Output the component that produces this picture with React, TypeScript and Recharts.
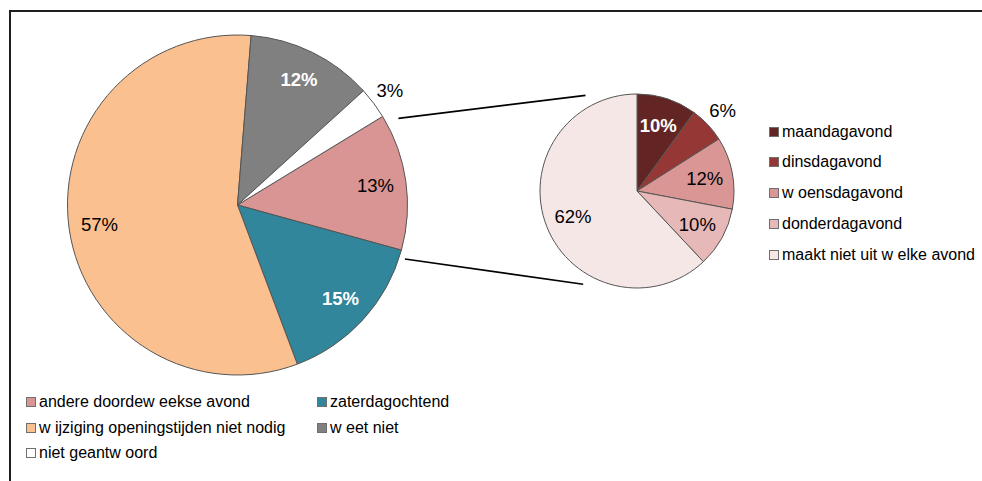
import React from 'react';
import { PieChart, Pie, Cell, Legend, Customized } from 'recharts';

// Main breakdown: preferred extra opening moment
const mainCategories = [
  'andere doordew eekse avond',
  'zaterdagochtend',
  'w ijziging openingstijden niet nodig',
  'w eet niet',
  'niet geantw oord',
];
const mainValues = [13, 15, 57, 12, 3];
const mainColors = ['#D99594', '#31869B', '#FAC090', '#808080', '#FFFFFF'];

// Split of "andere doordeweekse avond" into evenings
const eveningCategories = [
  'maandagavond',
  'dinsdagavond',
  'w oensdagavond',
  'donderdagavond',
  'maakt niet uit w elke avond',
];
const eveningValues = [10, 6, 12, 10, 62];
const eveningColors = ['#632523', '#953735', '#D99694', '#E6B9B8', '#F6E7E7'];

const mainData = mainCategories.map((name, i) => ({ name, value: mainValues[i] }));
const eveningData = eveningCategories.map((name, i) => ({ name, value: eveningValues[i] }));

const W = 982;
const H = 481;
const FONT = '"Liberation Sans", Arial, Helvetica, sans-serif';

const MAIN = { cx: 237.5, cy: 205, r: 170, start: 31.4 };
const SUB = { cx: 637, cy: 191, r: 97, start: 90 };

const RAD = Math.PI / 180;

// point on a circle, angle measured clockwise from 12 o'clock
const polar = (cx: number, cy: number, r: number, deg: number) => ({
  x: cx + r * Math.sin(deg * RAD),
  y: cy - r * Math.cos(deg * RAD),
});

const boldWhite = (fill: string) => ['#808080', '#31869B', '#632523'].includes(fill);

const makeLabel = (colors: string[], inside: number, outside: number) => (props: any) => {
  const { cx, cy, midAngle, outerRadius, index, value } = props;
  const small = value < 8;
  const r = outerRadius * (small ? outside : inside);
  const x = cx + r * Math.cos(-midAngle * RAD);
  const y = cy + r * Math.sin(-midAngle * RAD);
  const white = !small && boldWhite(colors[index]);
  return (
    <text
      x={x}
      y={y}
      textAnchor="middle"
      dominantBaseline="central"
      fontFamily={FONT}
      fontSize={18.5}
      fontWeight={white ? 'bold' : 'normal'}
      fill={white ? '#FFFFFF' : '#000000'}
    >
      {`${value}%`}
    </text>
  );
};

// lines linking the split slice to the secondary pie
const Connectors = () => {
  const a = polar(MAIN.cx, MAIN.cy, MAIN.r * 1.075, 61.7);
  const b = polar(SUB.cx, SUB.cy, SUB.r * 1.12, 331.7);
  const c = polar(MAIN.cx, MAIN.cy, MAIN.r * 1.035, 107.9);
  const d = polar(SUB.cx, SUB.cy, SUB.r * 1.11, 210);
  return (
    <g>
      <line x1={a.x} y1={a.y} x2={b.x} y2={b.y} stroke="#000" strokeWidth={1.6} />
      <line x1={c.x} y1={c.y} x2={d.x} y2={d.y} stroke="#000" strokeWidth={1.6} />
    </g>
  );
};

const Swatch = ({ color }: { color: string }) => (
  <span
    style={{
      display: 'inline-block',
      width: 8,
      height: 8,
      background: color,
      border: '1px solid #6f6f6f',
      marginRight: 3,
      flex: '0 0 auto',
    }}
  />
);

const LegendBlocks = () => (
  <div style={{ position: 'relative', width: W, height: H, fontFamily: FONT, fontSize: 16, color: '#000' }}>
    <div
      style={{
        position: 'absolute',
        left: 26,
        top: 389,
        width: 582,
        display: 'flex',
        flexWrap: 'wrap',
      }}
    >
      {mainCategories.map((name, i) => (
        <div key={name} style={{ width: 291, height: 25.8, display: 'flex', alignItems: 'center', whiteSpace: 'nowrap' }}>
          <Swatch color={mainColors[i]} />
          <span>{name}</span>
        </div>
      ))}
    </div>
    <div style={{ position: 'absolute', left: 769, top: 116.3 }}>
      {eveningCategories.map((name, i) => (
        <div key={name} style={{ height: 30.8, display: 'flex', alignItems: 'center', whiteSpace: 'nowrap' }}>
          <Swatch color={eveningColors[i]} />
          <span>{name}</span>
        </div>
      ))}
    </div>
  </div>
);

export default function App() {
  return (
    <div style={{ position: 'absolute', left: 0, top: 0, width: W, height: H, overflow: 'hidden', background: '#fff' }}>
      <div
        style={{
          position: 'absolute',
          left: 9,
          top: 10,
          width: W,
          height: H,
          border: '2px solid #1e1e1e',
          boxSizing: 'border-box',
        }}
      />
      <div style={{ position: 'absolute', left: 0, top: 0 }}>
        <PieChart width={W} height={H} margin={{ top: 0, right: 0, bottom: 0, left: 0 }}>
          <Pie
            data={mainData}
            dataKey="value"
            nameKey="name"
            cx={MAIN.cx}
            cy={MAIN.cy}
            outerRadius={MAIN.r}
            startAngle={MAIN.start}
            endAngle={MAIN.start - 360}
            stroke="#555555"
            strokeWidth={1}
            label={makeLabel(mainColors, 0.82, 1.12)}
            labelLine={false}
            isAnimationActive={false}
          >
            {mainData.map((d, i) => (
              <Cell key={d.name} fill={mainColors[i]} />
            ))}
          </Pie>
          <Pie
            data={eveningData}
            dataKey="value"
            nameKey="name"
            cx={SUB.cx}
            cy={SUB.cy}
            outerRadius={SUB.r}
            startAngle={SUB.start}
            endAngle={SUB.start - 360}
            stroke="#555555"
            strokeWidth={1}
            label={makeLabel(eveningColors, 0.71, 1.21)}
            labelLine={false}
            isAnimationActive={false}
          >
            {eveningData.map((d, i) => (
              <Cell key={d.name} fill={eveningColors[i]} />
            ))}
          </Pie>
          <Customized component={Connectors} />
          <Legend
            layout="vertical"
            align="center"
            verticalAlign="middle"
            content={() => <LegendBlocks />}
            wrapperStyle={{ left: 0, top: 0, width: W, height: H, pointerEvents: 'none' }}
          />
        </PieChart>
      </div>
    </div>
  );
}
